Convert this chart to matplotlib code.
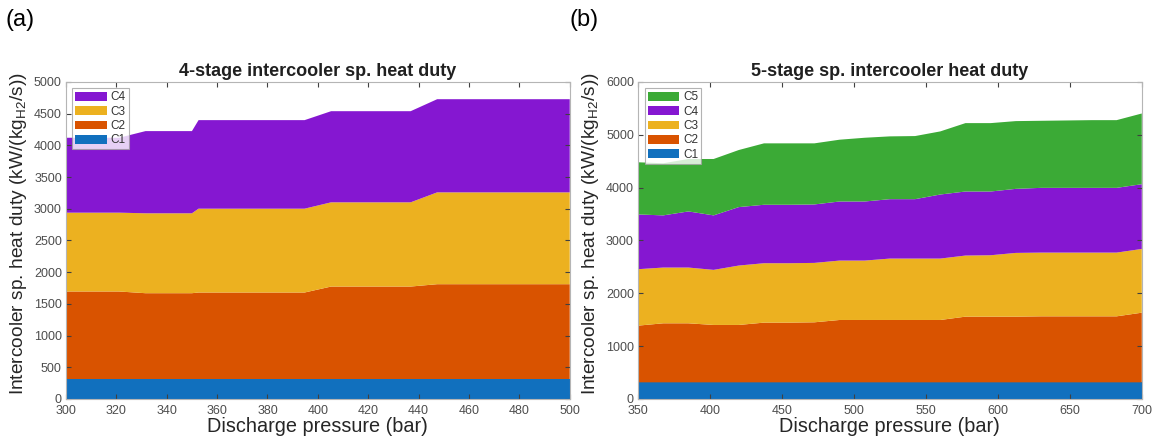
import numpy as np
import matplotlib
matplotlib.use('Agg')
import matplotlib.pyplot as plt

plt.rcParams['font.family'] = ['Liberation Sans', 'DejaVu Sans']

# ---- 4-stage intercooler data (kW per kg/s H2, stage-by-stage) ----
p_4stage = np.sort(np.append(np.linspace(300, 500, 20), 350.0))
c1_4 = [315] * 21
c2_4 = [1380, 1380, 1380, 1353, 1353, 1353, 1364, 1364, 1364, 1364, 1364,
        1458, 1458, 1458, 1458, 1495, 1495, 1495, 1495, 1495, 1495]
c3_4 = [1243, 1243, 1243, 1260, 1260, 1260, 1322, 1322, 1322, 1322, 1322,
        1328, 1328, 1328, 1328, 1448, 1448, 1448, 1448, 1448, 1448]
c4_4 = [1181, 1181, 1181, 1296, 1296, 1296, 1396, 1396, 1396, 1396, 1396,
        1437, 1437, 1437, 1437, 1469, 1469, 1469, 1469, 1469, 1469]

# ---- 5-stage intercooler data ----
p_5stage = np.linspace(350, 700, 21)
c1_5 = [315] * 21
c2_5 = [1073, 1117, 1117, 1086, 1086, 1130, 1130, 1136, 1180, 1180, 1180,
        1180, 1180, 1243, 1243, 1243, 1249, 1249, 1249, 1249, 1318]
c3_5 = [1068, 1055, 1055, 1042, 1124, 1124, 1124, 1124, 1124, 1124, 1162,
        1162, 1162, 1156, 1162, 1206, 1206, 1206, 1206, 1206, 1206]
c4_5 = [1036, 987, 1062, 1031, 1106, 1106, 1106, 1106, 1118, 1118, 1124,
        1124, 1212, 1212, 1206, 1212, 1225, 1225, 1225, 1225, 1225]
c5_5 = [987, 986, 992, 1067, 1080, 1162, 1162, 1156, 1169, 1206, 1188,
        1194, 1194, 1294, 1294, 1282, 1269, 1275, 1281, 1281, 1338]

STAGE_COLORS = ['#1170BE', '#D95300', '#ECB120', '#8517D1', '#3BAA36']
YLABEL = r'Intercooler sp. heat duty (kW/(kg$_{\mathregular{H2}}$/s))'


def draw_panel(ax, x, stages, title, ylim, yticks, xticks):
    labels = [f'C{i + 1}' for i in range(len(stages))]
    ax.stackplot(x, *stages, colors=STAGE_COLORS[:len(stages)],
                 labels=labels, linewidth=0)
    ax.set_xlim(x[0], x[-1])
    ax.set_ylim(*ylim)
    ax.set_xticks(xticks)
    ax.set_yticks(yticks)
    ax.tick_params(direction='in', top=True, right=True, length=3.5,
                   width=0.8, color='#404040', labelcolor='#4d4d4d',
                   labelsize=9)
    ax.tick_params(axis='x', pad=4.5)
    ax.tick_params(axis='y', pad=3)
    for s in ax.spines.values():
        s.set_color('#b5b5b5')
        s.set_linewidth(0.8)
    ax.set_title(title, fontsize=13, fontweight='bold', color='#202020', pad=4)
    ax.set_xlabel('Discharge pressure (bar)', fontsize=14.3, color='#262626', labelpad=0)
    ax.set_ylabel(YLABEL, fontsize=13.8, color='#262626')
    # label sits a little above the axes centre
    ax.yaxis.set_label_coords(-0.073, 0.52)
    h, l = ax.get_legend_handles_labels()
    leg = ax.legend(h[::-1], l[::-1], loc='upper left', fontsize=8.5,
                    frameon=True, fancybox=False, edgecolor='#a0a0a0',
                    handlelength=2.7, handleheight=0.75, labelspacing=0.2,
                    borderpad=0.25, handletextpad=0.3, borderaxespad=0.55)
    leg.get_frame().set_linewidth(0.8)
    for t in leg.get_texts():
        t.set_color('#333333')


fig = plt.figure(figsize=(11.58, 4.46), dpi=100)
ax_a = fig.add_axes([0.057, 0.1054, 0.435, 0.711])
ax_b = fig.add_axes([0.551, 0.1054, 0.435, 0.711])

draw_panel(ax_a, p_4stage, [c1_4, c2_4, c3_4, c4_4],
           '4-stage intercooler sp. heat duty', (0, 5000),
           np.arange(0, 5001, 500), np.arange(300, 501, 20))
draw_panel(ax_b, p_5stage, [c1_5, c2_5, c3_5, c4_5, c5_5],
           '5-stage sp. intercooler heat duty', (0, 6000),
           np.arange(0, 6001, 1000), np.arange(350, 701, 50))

fig.text(0.005, 0.955, '(a)', fontsize=17, va='center', ha='left')
fig.text(0.492, 0.955, '(b)', fontsize=17, va='center', ha='left')

fig.savefig('out.png', dpi=100)
